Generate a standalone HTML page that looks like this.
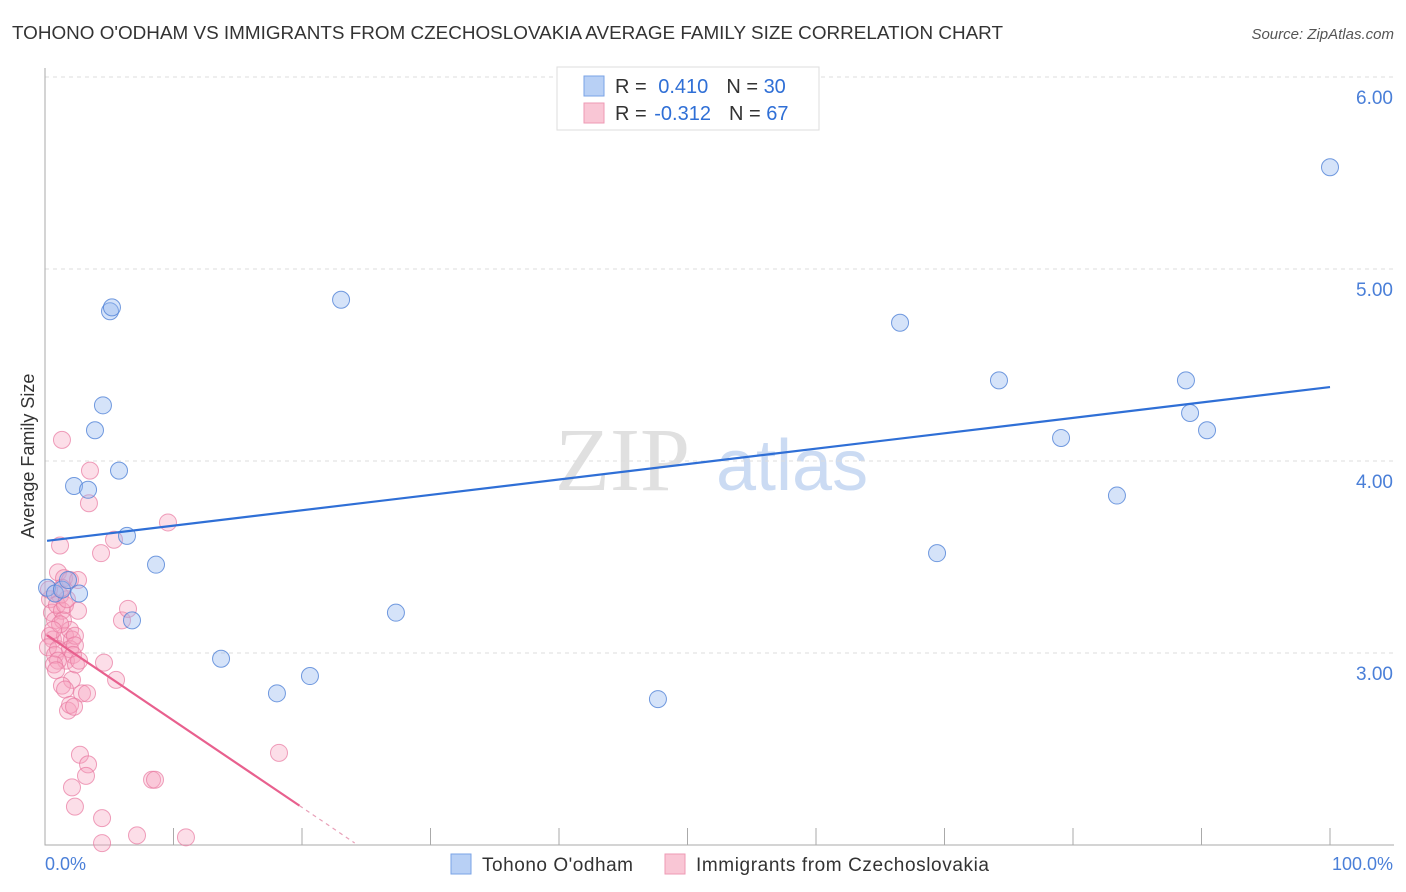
<!DOCTYPE html>
<html><head><meta charset="utf-8"><style>
body{margin:0;background:#fff;font-family:"Liberation Sans",sans-serif;}
#wrap{position:relative;width:1406px;height:892px;overflow:hidden;}
</style></head><body>
<div id="wrap">
<svg id="svg" width="1406" height="892" xmlns="http://www.w3.org/2000/svg">
<text x="12" y="39" font-size="18" fill="#333" textLength="991" lengthAdjust="spacingAndGlyphs">TOHONO O'ODHAM VS IMMIGRANTS FROM CZECHOSLOVAKIA AVERAGE FAMILY SIZE CORRELATION CHART</text>
<text x="1394" y="39" font-size="15" fill="#555" font-style="italic" text-anchor="end">Source: ZipAtlas.com</text>
<text x="555" y="490" font-size="90" fill="#ccc" opacity="0.6" font-family="Liberation Serif,serif">ZIP</text>
<text x="716" y="490" font-size="72" fill="#a9c4ec" opacity="0.6">atlas</text>
<text transform="translate(34,456) rotate(-90)" font-size="18" fill="#333" text-anchor="middle">Average Family Size</text>
<text x="45" y="870" font-size="18" fill="#4a7fd8">0.0%</text>
<text x="1393" y="870" font-size="18" fill="#4a7fd8" text-anchor="end">100.0%</text>
<g id="grid"></g><g id="pts"></g><g id="lines"></g>
<g>
<rect x="557" y="67" width="262" height="63" fill="#fff" stroke="#ddd"/>
<rect x="584" y="76" width="20" height="20" fill="#b8d0f5" stroke="#7aa3e6"/>
<rect x="584" y="103" width="20" height="20" fill="#f9c6d5" stroke="#ee9ab4"/>
<text x="615" y="93" font-size="20" fill="#333">R = <tspan fill="#2f6fd6" dx="6">0.410</tspan><tspan dx="18" fill="#333">N = </tspan><tspan fill="#2f6fd6">30</tspan></text>
<text x="615" y="120" font-size="20" fill="#333">R = <tspan fill="#2f6fd6" dx="2">-0.312</tspan><tspan dx="18" fill="#333">N = </tspan><tspan fill="#2f6fd6">67</tspan></text>
</g>
<g>
<rect x="451" y="854" width="20" height="20" fill="#b8d0f5" stroke="#7aa3e6"/>
<text x="482" y="871" font-size="19" fill="#333" textLength="151">Tohono O'odham</text>
<rect x="665" y="854" width="20" height="20" fill="#f9c6d5" stroke="#ee9ab4"/>
<text x="696" y="871" font-size="19" fill="#333" textLength="293">Immigrants from Czechoslovakia</text>
</g>
</svg></div>
<script>
const yTicks=[3,4,5,6];
const yTickLabels=["3.00","4.00","5.00","6.00"];
const xTicks=[0,10,20,30,40,50,60,70,80,90,100];
const blueX=[0.16,0.78,1.32,1.79,2.65,2.26,3.35,3.89,4.51,5.06,5.21,5.76,6.38,6.77,8.64,13.7,18.05,20.62,23.04,27.31,47.7,66.54,69.42,74.24,79.07,83.42,88.79,89.11,90.43,100];
const blueY=[3.34,3.31,3.33,3.38,3.31,3.87,3.85,4.16,4.29,4.78,4.80,3.95,3.61,3.17,3.46,2.97,2.79,2.88,4.84,3.21,2.76,4.72,3.52,4.42,4.12,3.82,4.42,4.25,4.16,5.53];
const pinkX=[0.39,0.54,0.78,0.39,0.62,0.23,0.78,1.01,1.17,0.93,1.32,1.56,1.40,1.56,1.95,2.10,1.63,1.95,2.33,1.17,1.01,1.48,1.95,2.57,2.57,2.33,2.18,2.10,1.32,1.56,1.79,1.95,2.41,2.65,2.88,3.27,2.26,1.32,3.50,3.42,4.36,5.37,4.59,5.53,5.99,6.46,9.57,2.72,3.35,3.19,2.10,2.33,4.44,4.44,7.16,10.97,8.33,8.56,18.21,1.01,0.70,0.86,1.17,0.62,1.71,1.32,0.31];
const pinkY=[3.28,3.21,3.17,3.09,3.07,3.03,2.99,3.02,3.30,3.25,3.22,3.25,3.17,3.09,3.12,3.07,2.96,3.02,3.09,3.56,3.42,3.39,3.38,3.38,3.22,3.04,2.99,2.86,2.83,2.81,2.70,2.73,2.94,2.96,2.79,2.79,2.72,4.11,3.95,3.78,3.52,3.59,2.95,2.86,3.17,3.23,3.68,2.47,2.42,2.36,2.30,2.20,2.14,2.01,2.05,2.04,2.34,2.34,2.48,2.96,2.94,2.91,3.15,3.12,3.28,3.34,3.33];
const blueLine=[3.583,4.385];
const pinkLine=[3.10,-0.0452];
const pinkSolidEnd=19.8, pinkDashEnd=24.1;
const NS="http://www.w3.org/2000/svg";
const X=v=>45+v*12.85, Y=v=>845-(v-2)*192;
function mk(t,a,p){const e=document.createElementNS(NS,t);for(const k in a)e.setAttribute(k,a[k]);p.appendChild(e);return e;}
const grid=document.getElementById('grid'),pts=document.getElementById('pts'),lines=document.getElementById('lines');
yTicks.forEach((t,i)=>{
 const l=mk('line',{x1:45,x2:1394,y1:Y(t),y2:Y(t),stroke:'#ddd','stroke-dasharray':'4,4'},grid);
 
 
 const tx=mk('text',{x:1393,y:Y(t)+27,'font-size':19,fill:'#4a7fd8','text-anchor':'end'},grid);
 tx.textContent=yTickLabels[i];
 
 
});
const ax=mk('path',{d:'M45,68V845H1394',stroke:'#aaa',fill:'none'},grid);


xTicks.forEach(t=>{
 const l=mk('line',{x1:X(t),x2:X(t),y1:828,y2:845,stroke:'#aaa'},grid);
 
 
});
pinkX.forEach((x,i)=>{
 const c=mk('circle',{cx:X(x),cy:Y(pinkY[i]),r:8.5,fill:'rgba(246,160,190,0.35)',stroke:'rgba(232,120,160,0.7)','stroke-width':1},pts);
 
 
});
blueX.forEach((x,i)=>{
 const c=mk('circle',{cx:X(x),cy:Y(blueY[i]),r:8.5,fill:'rgba(150,185,240,0.4)',stroke:'rgba(80,130,215,0.8)','stroke-width':1},pts);
 
 
});
const bl=mk('line',{x1:X(0.16),y1:Y(blueLine[0]+(blueLine[1]-blueLine[0])*0.0016),x2:X(100),y2:Y(blueLine[1]),stroke:'#2f6fd6','stroke-width':2.2},lines);


const pl=mk('line',{x1:X(0.16),y1:Y(pinkLine[0]+pinkLine[1]*0.16),x2:X(pinkSolidEnd),y2:Y(pinkLine[0]+pinkLine[1]*pinkSolidEnd),stroke:'#e8608e','stroke-width':2.2},lines);


const pd=mk('line',{x1:X(pinkSolidEnd),y1:Y(pinkLine[0]+pinkLine[1]*pinkSolidEnd),x2:X(pinkDashEnd),y2:Y(pinkLine[0]+pinkLine[1]*pinkDashEnd),stroke:'#e8a0b8','stroke-width':1.2,'stroke-dasharray':'4,4'},lines);


</script>
</body></html>
